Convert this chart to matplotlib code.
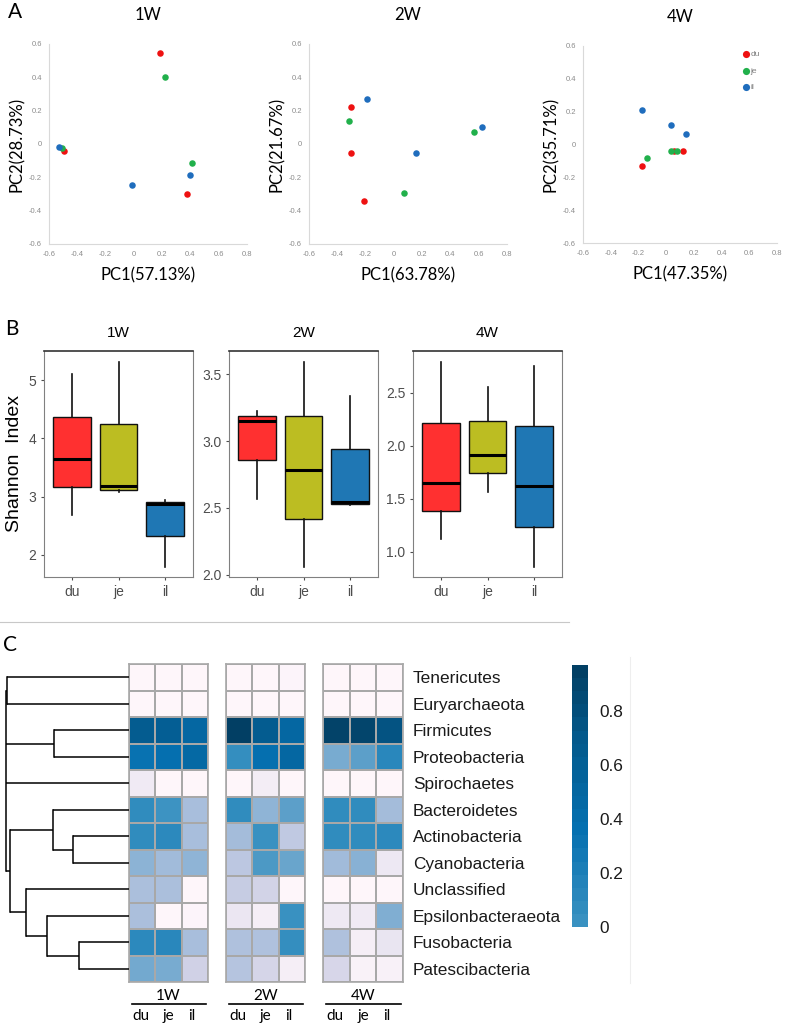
import numpy as np
import matplotlib
matplotlib.use('Agg')
import matplotlib.pyplot as plt
from matplotlib import colors as mcolors
from matplotlib.colorbar import ColorbarBase
from matplotlib.lines import Line2D
from matplotlib.ticker import FuncFormatter

plt.rcParams['font.family'] = ['Liberation Sans', 'DejaVu Sans']
CAL = ['Lato', 'DejaVu Sans']   # calibri-ish text of panel A / heatmap footer

W, H = 789, 1023


def box(x0, y0, x1, y1):
    # pixel rect (origin top-left) -> figure fraction
    return [x0 / W, 1 - y1 / H, (x1 - x0) / W, (y1 - y0) / H]


weeks = ['1W', '2W', '4W']
sites = ['du', 'je', 'il']

# ---------------- A: PCoA ----------------
pc1_var = ['57.13', '63.78', '47.35']
pc2_var = ['28.73', '21.67', '35.71']
# [du, je, il]
pc_1w_x = [[0.185, -0.496, 0.377], [0.218, -0.51, 0.412], [-0.529, -0.011, 0.40]]
pc_1w_y = [[0.546, -0.042, -0.298], [0.404, -0.025, -0.114], [-0.016, -0.248, -0.184]]
pc_2w_x = [[-0.304, -0.304, -0.21], [-0.316, 0.072, 0.566], [-0.193, 0.159, 0.623]]
pc_2w_y = [[0.22, -0.056, -0.344], [0.138, -0.296, 0.074], [0.268, -0.056, 0.10]]
pc_4w_x = [[-0.173, 0.06, 0.119], [-0.139, 0.037, 0.076], [-0.175, 0.037, 0.146]]
pc_4w_y = [[-0.133, -0.04, -0.04], [-0.084, -0.039, -0.039], [0.209, 0.116, 0.066]]
pca_colors = ['#ee1111', '#21b04b', '#1f6dbd']

# ---------------- B: Shannon ----------------
# (whislo, q1, med, q3, whishi) for du, je, il
shannon_1w = [(2.68, 3.16, 3.64, 4.37, 5.10), (3.08, 3.12, 3.19, 4.25, 5.31), (1.79, 2.33, 2.88, 2.91, 2.95)]
shannon_2w = [(2.565, 2.856, 3.149, 3.186, 3.226), (2.055, 2.416, 2.784, 3.186, 3.59), (2.52, 2.53, 2.545, 2.938, 3.335)]
shannon_4w = [(1.119, 1.38, 1.646, 2.214, 2.79), (1.565, 1.74, 1.915, 2.236, 2.556), (0.852, 1.232, 1.615, 2.186, 2.75)]
box_colors = ['#ff3030', '#bcbd22', '#1f77b4']

# ---------------- C: heatmap ----------------
phyla = ['Tenericutes', 'Euryarchaeota', 'Firmicutes', 'Proteobacteria', 'Spirochaetes',
         'Bacteroidetes', 'Actinobacteria', 'Cyanobacteria', 'Unclassified',
         'Epsilonbacteraeota', 'Fusobacteria', 'Patescibacteria']
abund_1w = [[0.01, 0.01, 0.01], [0.01, 0.01, 0.01], [0.86, 0.85, 0.80], [0.74, 0.75, 0.79],
            [0.10, 0.01, 0.01], [0.64, 0.61, 0.37], [0.64, 0.65, 0.37], [0.44, 0.39, 0.43],
            [0.36, 0.36, 0.01], [0.36, 0.01, 0.02], [0.65, 0.66, 0.37], [0.50, 0.49, 0.25]]
abund_2w = [[0.01, 0.01, 0.02], [0.01, 0.01, 0.01], [0.97, 0.86, 0.80], [0.63, 0.75, 0.80],
            [0.01, 0.08, 0.01], [0.64, 0.43, 0.55], [0.38, 0.62, 0.30], [0.31, 0.58, 0.52],
            [0.28, 0.24, 0.01], [0.13, 0.07, 0.62], [0.35, 0.35, 0.63], [0.33, 0.23, 0.07]]
abund_4w = [[0.01, 0.01, 0.01], [0.01, 0.01, 0.01], [0.96, 0.95, 0.90], [0.49, 0.55, 0.66],
            [0.01, 0.01, 0.01], [0.64, 0.64, 0.38], [0.64, 0.64, 0.65], [0.39, 0.45, 0.12],
            [0.01, 0.01, 0.01], [0.11, 0.10, 0.47], [0.35, 0.07, 0.14], [0.22, 0.04, 0.05]]
# row dendrogram: (height, children)
tree = (1.0, [(0.99, ['Tenericutes', 'Euryarchaeota']),
              (0.61, ['Firmicutes', 'Proteobacteria']),
              'Spirochaetes',
              (0.97, [(0.62, ['Bacteroidetes', (0.455, ['Actinobacteria', 'Cyanobacteria'])]),
                      (0.84, ['Unclassified', (0.67, ['Epsilonbacteraeota',
                                                      (0.41, ['Fusobacteria', 'Patescibacteria'])])])])])

fig = plt.figure(figsize=(W / 100, H / 100), dpi=100)

# ===== panel A =====
a_boxes = [(49, 44, 247, 244), (309, 44, 507, 244), (583, 46, 777, 243)]
pcs = [(pc_1w_x, pc_1w_y), (pc_2w_x, pc_2w_y), (pc_4w_x, pc_4w_y)]
fmt = FuncFormatter(lambda v, p: '0' if abs(v) < 1e-9 else '%.1f' % v)
for k in range(3):
    ax = fig.add_axes(box(*a_boxes[k]))
    px, py = pcs[k]
    for j in [0, 1, 2]:
        ax.scatter(px[j], py[j], s=22, color=pca_colors[j], linewidths=0, label=sites[j], zorder=3)
    ax.set_xlim(-0.6, 0.8)
    ax.set_ylim(-0.6, 0.6)
    ax.set_xticks(np.arange(-0.6, 0.81, 0.2))
    ax.set_yticks(np.arange(-0.6, 0.61, 0.2))
    ax.xaxis.set_major_formatter(fmt)
    ax.yaxis.set_major_formatter(fmt)
    ax.tick_params(length=0, labelsize=5.5, labelcolor='#8c8c8c', pad=5)
    for s in ['top', 'right']:
        ax.spines[s].set_visible(False)
    for s in ['left', 'bottom']:
        ax.spines[s].set_color('#d9d9d9')
        ax.spines[s].set_linewidth(0.8)
    ax.set_xlabel('PC1(%s%%)' % pc1_var[k], fontsize=12, family=CAL, labelpad=7)
    ax.set_ylabel('PC2(%s%%)' % pc2_var[k], fontsize=12, family=CAL, labelpad=3)
    ax.set_title(weeks[k], fontsize=12, family=CAL, pad=17)
    if k == 2:
        ax.legend(loc='upper left', bbox_to_anchor=(0.80, 0.995), frameon=False, fontsize=6,
                  handletextpad=0.1, labelspacing=1.05, borderaxespad=0, handlelength=1,
                  labelcolor='#7f7f7f', markerscale=1.1)

fig.text(15 / W, 1 - 12 / H, 'A', fontsize=15, ha='center', va='center', family=CAL)

# ===== panel B =====
b_boxes = [(44, 351, 193, 577), (229, 351, 378, 577), (413, 351, 562, 577)]
shannon = [shannon_1w, shannon_2w, shannon_4w]
b_ylims = [(1.62, 5.50), (1.983, 3.674), (0.76, 2.895)]
b_ticks = [[2, 3, 4, 5], [2.0, 2.5, 3.0, 3.5], [1.0, 1.5, 2.0, 2.5]]
for k in range(3):
    ax = fig.add_axes(box(*b_boxes[k]))
    stats = [dict(whislo=a, q1=b, med=c, q3=d, whishi=e) for a, b, c, d, e in shannon[k]]
    bp = ax.bxp(stats, positions=[1, 2, 3], widths=0.8, patch_artist=True,
                showcaps=False, showfliers=False,
                boxprops=dict(edgecolor='#111111', linewidth=1.0),
                medianprops=dict(color='black', linewidth=2.2),
                whiskerprops=dict(color='#111111', linewidth=1.2))
    for patch, c in zip(bp['boxes'], box_colors):
        patch.set_facecolor(c)
    ax.set_xlim(0.4, 3.6)
    ax.set_ylim(*b_ylims[k])
    ax.set_yticks(b_ticks[k])
    if k > 0:
        ax.set_yticklabels(['%.1f' % t for t in b_ticks[k]])
    ax.set_xticks([1, 2, 3])
    ax.set_xticklabels(sites)
    ax.tick_params(length=2.5, width=0.8, color='#4d4d4d', labelsize=10,
                   labelcolor='#4d4d4d', pad=3)
    for s in ax.spines.values():
        s.set_color('#808080')
        s.set_linewidth(0.8)
    ax.spines['top'].set_color('#333333')
    ax.spines['top'].set_linewidth(1.2)
    ax.set_title(weeks[k], fontsize=11, pad=10)
    if k == 0:
        ax.set_ylabel('Shannon  Index', fontsize=14, labelpad=4)

fig.text(12 / W, 1 - 329 / H, 'B', fontsize=15, ha='center', va='center', family=CAL)
fig.add_artist(Line2D([0, 569 / W], [1 - 622 / H] * 2, color='#c8c8c8', lw=0.8))

# ===== panel C =====
fig.text(10 / W, 1 - 645 / H, 'C', fontsize=15, ha='center', va='center', family=CAL)
h_boxes = [(129, 664, 208, 982), (226, 664, 305, 982), (323, 664, 403, 982)]
abund = [abund_1w, abund_2w, abund_4w]
for k in range(3):
    ax = fig.add_axes(box(*h_boxes[k]))
    ax.pcolormesh(np.array(abund[k]), cmap='PuBu', vmin=0, vmax=1,
                  edgecolors='#a8a8a8', linewidth=1.2)
    ax.set_xlim(0, 3)
    ax.set_ylim(len(phyla), 0)
    for s in ax.spines.values():
        s.set_color('#a8a8a8')
        s.set_linewidth(1.2)
    ax.set_xticks([])
    if k == 2:
        ax.yaxis.tick_right()
        ax.set_yticks(np.arange(len(phyla)) + 0.5)
        ax.set_yticklabels(phyla, fontsize=12.4, color='#1a1a1a')
        ax.tick_params(axis='y', length=0, pad=7)
    else:
        ax.set_yticks([])
    # footer: week, rule, site names
    ax.text(0.5, -0.043, weeks[k], transform=ax.transAxes, ha='center', va='center',
            family=CAL, fontsize=11)
    ax.plot([0.04, 0.97], [-0.069, -0.069], transform=ax.transAxes, color='black',
            lw=1.2, clip_on=False)
    for j, xs in enumerate([0.15, 0.5, 0.8]):
        ax.text(xs, -0.107, sites[j], transform=ax.transAxes, ha='center', va='center',
                family=CAL, fontsize=11)

# dendrogram
dax = fig.add_axes(box(0, 664, 129, 982))
dax.set_xlim(1.049, 0)
dax.set_ylim(len(phyla), 0)
dax.axis('off')


def draw_node(node):
    if isinstance(node, str):
        return phyla.index(node) + 0.5, 0.0
    h, kids = node
    ys = []
    for kid in kids:
        y, kh = draw_node(kid)
        dax.plot([kh, h], [y, y], color='black', lw=1.1, solid_capstyle='butt')
        ys.append(y)
    dax.plot([h, h], [ys[0], ys[-1]], color='black', lw=1.1)
    return (ys[0] + ys[-1]) / 2, h


draw_node(tree)

# colour bar (upper part of PuBu only, as in the original)
cax = fig.add_axes(box(572, 665, 588, 927))
bar_cmap = mcolors.ListedColormap(plt.get_cmap('PuBu')(np.linspace(0.62, 0.97, 20)))
cb = ColorbarBase(cax, cmap=bar_cmap, norm=mcolors.Normalize(0, 0.97))
cb.set_ticks([0, 0.2, 0.4, 0.6, 0.8])
cb.set_ticklabels(['0', '0.2', '0.4', '0.6', '0.8'])
cb.outline.set_visible(False)
cax.tick_params(length=0, labelsize=12.4, pad=8, labelcolor='#1a1a1a')
fig.add_artist(Line2D([630 / W] * 2, [1 - 657 / H, 1 - 983 / H], color='#eeeeee', lw=0.8))

fig.savefig('out.png', dpi=100)
